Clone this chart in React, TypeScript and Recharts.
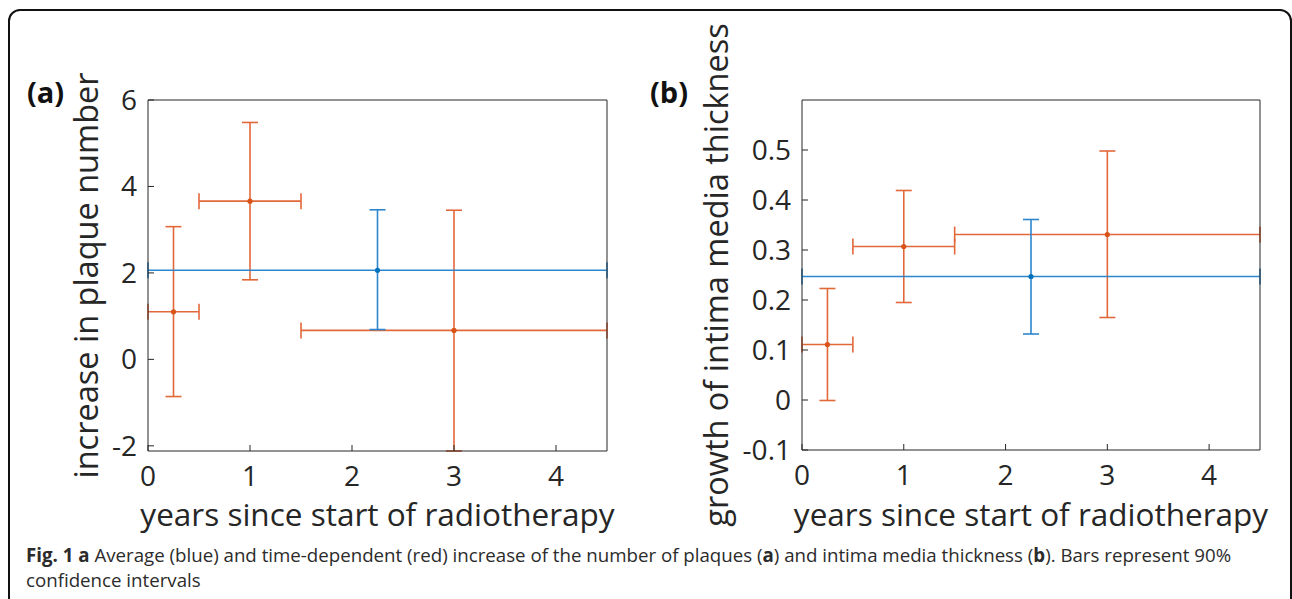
import React from 'react'
import { ScatterChart, Scatter, XAxis, YAxis, ErrorBar } from 'recharts'

// shared x axis
const xTicks = [0, 1, 2, 3, 4]

// (a) increase in plaque number
const plaqueYTicks = [-2, 0, 2, 4, 6]
const plaqueRedX = [0.25, 1, 3]
const plaqueRedY = [1.1, 3.66, 0.67]
const plaqueRedXLow = [0, 0.5, 1.5]
const plaqueRedXHigh = [0.5, 1.5, 4.5]
const plaqueRedYLow = [-0.86, 1.84, -2.12]
const plaqueRedYHigh = [3.07, 5.48, 3.45]
const plaqueBlueX = [2.25]
const plaqueBlueY = [2.06]
const plaqueBlueXLow = [0]
const plaqueBlueXHigh = [4.5]
const plaqueBlueYLow = [0.69]
const plaqueBlueYHigh = [3.46]

// (b) growth of intima media thickness
const imtYTicks = [-0.1, 0, 0.1, 0.2, 0.3, 0.4, 0.5]
const imtRedX = [0.25, 1, 3]
const imtRedY = [0.111, 0.307, 0.331]
const imtRedXLow = [0, 0.5, 1.5]
const imtRedXHigh = [0.5, 1.5, 4.5]
const imtRedYLow = [-0.001, 0.195, 0.165]
const imtRedYHigh = [0.223, 0.419, 0.498]
const imtBlueX = [2.25]
const imtBlueY = [0.247]
const imtBlueXLow = [0]
const imtBlueXHigh = [4.5]
const imtBlueYLow = [0.132]
const imtBlueYHigh = [0.361]

const RED = '#E2683A'
const RED_DOT = '#D95319'
const BLUE = '#2E86CC'
const BLUE_DOT = '#0072BD'
const INK = '#262626'
const FONT = '"Open Sans", "Noto Sans", sans-serif'

function rows(x: number[], y: number[], xl: number[], xh: number[], yl: number[], yh: number[]) {
  return x.map((v, i) => ({
    x: v,
    y: y[i],
    ex: [v - xl[i], xh[i] - v],
    ey: [y[i] - yl[i], yh[i] - y[i]],
  }))
}

const dot = (fill: string) => (p: any) => <circle cx={p.cx} cy={p.cy} r={2.6} fill={fill} />

const yTitle = (text: string, baselineX: number) => (p: any) => {
  const vb = p.viewBox
  const cy = vb.y + vb.height / 2
  return (
    <text
      x={baselineX}
      y={cy}
      transform={`rotate(-90 ${baselineX} ${cy})`}
      textAnchor="middle"
      fill={INK}
      fontSize={32.5}
      fontFamily={FONT}
    >
      {text}
    </text>
  )
}

const xTitle = (text: string) => (p: any) => {
  const vb = p.viewBox
  return (
    <text x={vb.x + vb.width / 2} y={526} textAnchor="middle" fill={INK} fontSize={31.5} fontFamily={FONT}>
      {text}
    </text>
  )
}

interface PanelProps {
  left: number
  width: number
  margin: { top: number; right: number; bottom: number; left: number }
  yDomain: [number, number]
  yTicks: number[]
  yLabel: string
  yLabelX: number
  red: ReturnType<typeof rows>
  blue: ReturnType<typeof rows>
}

function Panel({ left, width, margin, yDomain, yTicks, yLabel, yLabelX, red, blue }: PanelProps) {
  const tickStyle = { fill: INK, fontSize: 28, fontFamily: FONT }
  return (
    <div style={{ position: 'absolute', left, top: 0 }}>
      <ScatterChart width={width} height={560} margin={margin}>
        <XAxis
          xAxisId="b"
          type="number"
          dataKey="x"
          domain={[0, 4.5]}
          ticks={xTicks}
          interval={0}
          allowDataOverflow
          height={1}
          tickSize={-6}
          tickMargin={21}
          axisLine={{ stroke: INK }}
          tickLine={{ stroke: INK }}
          tick={tickStyle}
          label={{ content: xTitle('years since start of radiotherapy') }}
        />
        <XAxis
          xAxisId="t"
          orientation="top"
          type="number"
          domain={[0, 4.5]}
          ticks={xTicks}
          interval={0}
          allowDataOverflow
          height={1}
          tickSize={-6}
          axisLine={{ stroke: INK }}
          tickLine={{ stroke: INK }}
          tick={false}
        />
        <YAxis
          yAxisId="l"
          type="number"
          dataKey="y"
          domain={yDomain}
          ticks={yTicks}
          interval={0}
          allowDataOverflow
          width={1}
          tickSize={-6}
          tickMargin={17}
          axisLine={{ stroke: INK }}
          tickLine={{ stroke: INK }}
          tick={tickStyle}
          label={{ content: yTitle(yLabel, yLabelX) }}
        />
        <YAxis
          yAxisId="r"
          orientation="right"
          type="number"
          domain={yDomain}
          ticks={yTicks}
          interval={0}
          allowDataOverflow
          width={1}
          tickSize={-6}
          axisLine={{ stroke: INK }}
          tickLine={{ stroke: INK }}
          tick={false}
        />
        <Scatter xAxisId="b" yAxisId="l" data={red} shape={dot(RED_DOT)} isAnimationActive={false}>
          <ErrorBar dataKey="ey" direction="y" width={8} stroke={RED} strokeWidth={1.6} />
          <ErrorBar dataKey="ex" direction="x" width={8} stroke={RED} strokeWidth={1.6} />
        </Scatter>
        <Scatter xAxisId="b" yAxisId="l" data={blue} shape={dot(BLUE_DOT)} isAnimationActive={false}>
          <ErrorBar dataKey="ey" direction="y" width={8} stroke={BLUE} strokeWidth={1.6} />
          <ErrorBar dataKey="ex" direction="x" width={8} stroke={BLUE} strokeWidth={1.6} />
        </Scatter>
      </ScatterChart>
    </div>
  )
}

const captionLine = { whiteSpace: 'nowrap' as const, height: 25 }

export default function App() {
  const plaqueRed = rows(plaqueRedX, plaqueRedY, plaqueRedXLow, plaqueRedXHigh, plaqueRedYLow, plaqueRedYHigh)
  const plaqueBlue = rows(plaqueBlueX, plaqueBlueY, plaqueBlueXLow, plaqueBlueXHigh, plaqueBlueYLow, plaqueBlueYHigh)
  const imtRed = rows(imtRedX, imtRedY, imtRedXLow, imtRedXHigh, imtRedYLow, imtRedYHigh)
  const imtBlue = rows(imtBlueX, imtBlueY, imtBlueXLow, imtBlueXHigh, imtBlueYLow, imtBlueYHigh)

  return (
    <div
      style={{
        position: 'fixed',
        left: 0,
        top: 0,
        width: 1292,
        height: 599,
        overflow: 'hidden',
        background: '#fff',
      }}
    >
      <div
        style={{
          position: 'absolute',
          left: 8,
          top: 9,
          width: 1284,
          height: 700,
          boxSizing: 'border-box',
          border: '2px solid #111',
          borderRadius: 12,
        }}
      />
      <Panel
        left={0}
        width={650}
        margin={{ top: 99, right: 42, bottom: 108, left: 147 }}
        yDomain={[-2.12, 6]}
        yTicks={plaqueYTicks}
        yLabel="increase in plaque number"
        yLabelX={98}
        red={plaqueRed}
        blue={plaqueBlue}
      />
      <Panel
        left={650}
        width={642}
        margin={{ top: 99, right: 31, bottom: 109, left: 151 }}
        yDomain={[-0.1, 0.6]}
        yTicks={imtYTicks}
        yLabel="growth of intima media thickness"
        yLabelX={78}
        red={imtRed}
        blue={imtBlue}
      />
      <div style={{ position: 'absolute', left: 27, top: 72, fontFamily: FONT, fontWeight: 700, fontSize: 29, color: '#111' }}>
        (a)
      </div>
      <div style={{ position: 'absolute', left: 650, top: 72, fontFamily: FONT, fontWeight: 700, fontSize: 29, color: '#111' }}>
        (b)
      </div>
      <div
        style={{
          position: 'absolute',
          left: 26,
          top: 542,
          fontFamily: FONT,
          fontSize: 18.7,
          lineHeight: '25px',
          color: '#2b2b2b',
        }}
      >
        <div style={captionLine}>
          <b>Fig. 1 a</b>
          <span> Average (blue) and time-dependent (red) increase of the number of plaques (</span>
          <b>a</b>
          <span>) and intima media thickness (</span>
          <b>b</b>
          <span>). Bars represent 90%</span>
        </div>
        <div style={captionLine}>confidence intervals</div>
      </div>
    </div>
  )
}
